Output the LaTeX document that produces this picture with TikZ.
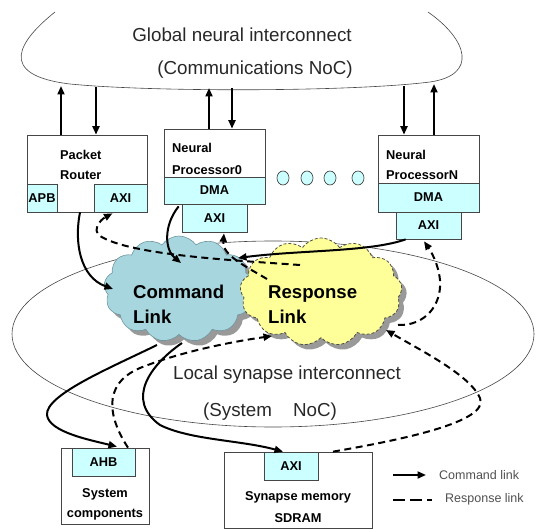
\documentclass[tikz,border=0pt]{standalone}
\usepackage{fontspec}
\setmainfont{Liberation Sans}
\usetikzlibrary{shapes.geometric,shapes.symbols,shadows,arrows.meta,calc}
\definecolor{subfill}{RGB}{204,255,255}
\definecolor{cmdfill}{RGB}{168,214,222}
\definecolor{cmdline}{RGB}{110,150,160}
\definecolor{rspfill}{RGB}{255,255,153}
\definecolor{rspline}{RGB}{80,80,60}
\definecolor{linegray}{RGB}{70,70,70}
\definecolor{legendgray}{RGB}{80,80,80}
\definecolor{textgray}{RGB}{40,40,40}
\newcommand\bigf{\fontsize{18.8}{22}\selectfont}
\newcommand\cloudf{\bfseries\fontsize{18.6}{22}\selectfont}
\newcommand\boxf{\bfseries\fontsize{12.8}{15}\selectfont}
\newcommand\lgdf{\fontsize{12.5}{15}\selectfont}
\begin{document}
\begin{tikzpicture}[x=1pt,y=-1pt,
  outer/.style={draw=linegray, line width=0.7pt, fill=white, inner sep=0pt},
  sub/.style={draw=linegray, line width=0.7pt, fill=subfill, inner sep=0pt, font=\boxf},
  lbl/.style={inner sep=0pt, font=\boxf},
  bigtxt/.style={inner sep=0pt, font=\bigf, text=textgray},
  cloudtxt/.style={inner sep=0pt, font=\cloudf, anchor=base west},
  dotc/.style={ellipse, draw=linegray, line width=0.7pt, fill=subfill, minimum width=12pt, minimum height=14pt, inner sep=0pt},
  cmdl/.style={line width=2pt, -{Triangle[length=8.5pt,width=7pt]}},
  rspl/.style={line width=2pt, dash pattern=on 7pt off 4.5pt, -{Triangle[length=8.5pt,width=7pt]}},
  cloudbase/.style={cloud, cloud puffs=13, cloud puff arc=110, aspect=1.4, inner sep=0pt,
     drop shadow={shadow xshift=5pt, shadow yshift=-5pt, fill=black!40, opacity=1}}
]
\useasboundingbox (0,0) rectangle (543,529);

% global interconnect outline
\draw[linegray, line width=0.6pt] (55,12) .. controls (20,40) and (-5,75) .. (70,84)
  .. controls (150,92) and (350,92) .. (430,82) .. controls (478,75) and (468,40) .. (428,12);
\node[bigtxt] (gtxt1) at (242,35) {Global neural interconnect};
\node[bigtxt] (gtxt2) at (255,70) {(Communications NoC)};

% local interconnect ellipse
\node[ellipse, draw=linegray, line width=0.6pt, minimum width=522pt, minimum height=186pt] (local) at (273,334) {};
\node[bigtxt] (ltxt1) at (287,375) {Local synapse interconnect};
\node[bigtxt] (ltxt2) at (270,412) {(System\hspace{21pt}NoC)};

% clouds
\node[cloudbase, fill=cmdfill, draw=cmdline, line width=0.6pt, minimum width=150pt, minimum height=106pt] (cmd) at (179,289) {};
\node[cloudbase, fill=rspfill, draw=rspline, line width=0.8pt, dash pattern=on 3pt off 2pt, minimum width=162pt, minimum height=108pt] (rsp) at (321,292) {};
\node[cloudtxt] (cmdt1) at (133,298) {Command};
\node[cloudtxt] (cmdt2) at (133,323) {Link};
\node[cloudtxt] (rspt1) at (268,298) {Response};
\node[cloudtxt] (rspt2) at (268,323) {Link};

% packet router
\node[outer, minimum width=120pt, minimum height=77pt] (router) at (87,173.5) {};
\node[sub, minimum width=30pt, minimum height=28pt] (apb) at (42,198) {APB};
\node[sub, minimum width=53pt, minimum height=28pt] (raxi) at (120.5,198) {AXI};
\node[lbl, anchor=base west] (rt1) at (60,160) {Packet};
\node[lbl, anchor=base west] (rt2) at (60,180) {Router};

% neural processor 0
\node[outer, minimum width=101pt, minimum height=75pt] (np0) at (214.5,166.5) {};
\node[sub, minimum width=101pt, minimum height=27pt] (dma0) at (214.5,190.5) {DMA};
\node[sub, minimum width=65pt, minimum height=28pt] (axi0) at (214.5,218) {AXI};
\node[lbl, anchor=base west] (n0t1) at (172,153) {Neural};
\node[lbl, anchor=base west] (n0t2) at (172,175) {Processor0};

% dots
\node[dotc] (d1) at (283,178) {};
\node[dotc] (d2) at (307,178) {};
\node[dotc] (d3) at (330,178) {};
\node[dotc] (d4) at (358,178) {};

% neural processor N
\node[outer, minimum width=101pt, minimum height=77pt] (npN) at (428.5,173.5) {};
\node[sub, minimum width=101pt, minimum height=29pt] (dmaN) at (428.5,197.5) {DMA};
\node[sub, minimum width=65pt, minimum height=27pt] (axiN) at (428.5,225.5) {AXI};
\node[lbl, anchor=base west] (nNt1) at (386,160) {Neural};
\node[lbl, anchor=base west] (nNt2) at (386,180) {ProcessorN};

% system components
\node[outer, minimum width=88pt, minimum height=76pt] (sys) at (105,486) {};
\node[sub, minimum width=63pt, minimum height=28pt] (ahb) at (103.5,462) {AHB};
\node[lbl, anchor=base] (st1) at (105,497) {System};
\node[lbl, anchor=base] (st2) at (105,517) {components};

% synapse memory
\node[outer, minimum width=148pt, minimum height=76pt] (sdram) at (298,490) {};
\node[sub, minimum width=54pt, minimum height=28pt] (saxi) at (291,466) {AXI};
\node[lbl, anchor=base] (sdt1) at (298,500) {Synapse memory};
\node[lbl, anchor=base] (sdt2) at (298,522) {SDRAM};

% links to global interconnect
\coordinate (g1) at (61,86);
\coordinate (g2) at (96,87);
\coordinate (g3) at (209,88);
\coordinate (g4) at (232,88);
\coordinate (g5) at (404,86);
\coordinate (g6) at (434,84);
\draw[cmdl] ($(router.north)+(-26,0)$) -- (g1);
\draw[cmdl] (g2) -- ($(router.north)+(9,0)$);
\draw[cmdl] ($(np0.north)+(-5.5,0)$) -- (g3);
\draw[cmdl] (g4) -- ($(np0.north)+(17.5,0)$);
\draw[cmdl] (g5) -- ($(npN.north)+(-24.5,0)$);
\draw[cmdl] ($(npN.north)+(5.5,0)$) -- (g6);

% command links
\draw[cmdl] ($(router.south)+(-7,0)$) .. controls (74,242) and (80,277) .. ($(cmd.center)+(-66,0)$);
\draw[cmdl] ($(dma0.south west)+(15,2)$) .. controls (163,226) and (165,250) .. ($(cmd.center)+(2,-26)$);
\draw[cmdl] ($(axiN.south west)+(10,0)$) .. controls (370,252) and (300,250) .. ($(cmd.center)+(59,-31)$);
\draw[cmdl] ($(cmd.center)+(-22,56)$) .. controls (110,368) and (45,395) .. (47,415)
  .. controls (49,432) and (90,440) .. ($(ahb.north)+(13.5,-1)$);
\draw[cmdl] ($(cmd.center)+(3,54)$) .. controls (150,365) and (125,400) .. (160,425)
  .. controls (190,440) and (240,440) .. ($(saxi.north)+(-8,0)$);

% response links
\draw[rspl] ($(rsp.center)+(-21,-27)$) .. controls (230,260) and (130,255) .. (100,236)
  .. controls (92,230) and (100,220) .. ($(raxi.south)+(-8,1)$);
\draw[rspl] ($(rsp.center)+(-54,-13)$) .. controls (245,266) and (222,255) .. ($(axi0.south)+(9.5,1)$);
\draw[rspl] ($(rsp.center)+(77,33)$) .. controls (425,326) and (442,305) .. (440,280)
  .. controls (438,262) and (430,250) .. ($(axiN.south)+(-4.5,2)$);
\draw[rspl] ($(sdram.north)+(35,0)$) .. controls (400,440) and (490,422) .. (480,398)
  .. controls (470,375) and (420,350) .. ($(rsp.center)+(65,38)$);
\draw[rspl] ($(ahb.north)+(24.5,0)$) .. controls (110,420) and (100,385) .. (140,368)
  .. controls (180,352) and (230,342) .. ($(rsp.center)+(-49,44)$);

% legend
\coordinate (la1) at (393,475);
\coordinate (lb1) at (426,475);
\coordinate (la2) at (393,500);
\coordinate (lb2) at (432,500);
\draw[cmdl] (la1) -- (lb1);
\draw[line width=2pt, dash pattern=on 12pt off 5pt] (la2) -- (lb2);
\node[inner sep=0pt, anchor=base west, font=\lgdf, text=legendgray] (lgt1) at (439,479) {Command link};
\node[inner sep=0pt, anchor=base west, font=\lgdf, text=legendgray] (lgt2) at (445,502) {Response link};
\end{tikzpicture}
\end{document}
